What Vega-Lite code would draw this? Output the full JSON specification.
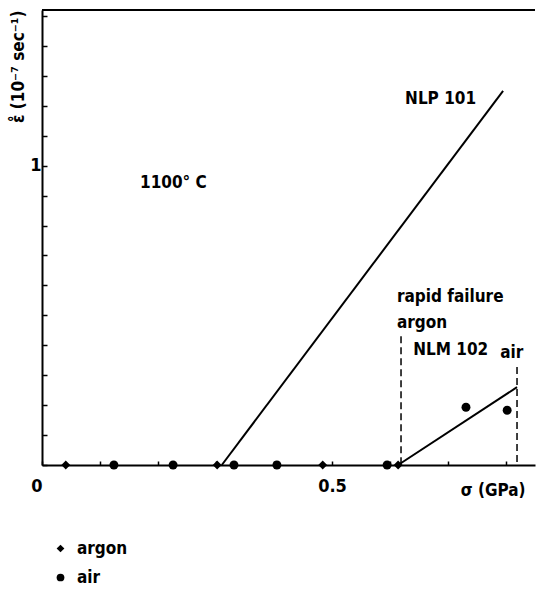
{
  "$schema": "https://vega.github.io/schema/vega-lite/v6.json",
  "width": 493,
  "height": 455,
  "autosize": {"type": "none"},
  "padding": {"left": 42, "top": 10, "right": 5, "bottom": 126},
  "background": "white",
  "config": {
    "font": "DejaVu Sans Condensed, sans-serif",
    "view": {"stroke": null},
    "axis": {"grid": false, "domainColor": "black", "domainWidth": 2, "tickColor": "black", "tickWidth": 1.5, "labelColor": "black", "titleColor": "black", "labelFontSize": 18, "titleFontSize": 17, "labelFontWeight": "bold", "titleFontWeight": "bold"}
  },
  "datasets": {
    "lines": [
      {"series": "NLP 101", "sigma": 0.31, "rate": 0},
      {"series": "NLP 101", "sigma": 0.795, "rate": 1.25},
      {"series": "NLM 102", "sigma": 0.614, "rate": 0},
      {"series": "NLM 102", "sigma": 0.819, "rate": 0.26}
    ],
    "points": [
      {"gas": "argon", "sigma": 0.041, "rate": 0},
      {"gas": "argon", "sigma": 0.302, "rate": 0},
      {"gas": "argon", "sigma": 0.484, "rate": 0},
      {"gas": "argon", "sigma": 0.614, "rate": 0},
      {"gas": "air", "sigma": 0.124, "rate": 0},
      {"gas": "air", "sigma": 0.226, "rate": 0},
      {"gas": "air", "sigma": 0.331, "rate": 0},
      {"gas": "air", "sigma": 0.405, "rate": 0},
      {"gas": "air", "sigma": 0.595, "rate": 0},
      {"gas": "air", "sigma": 0.731, "rate": 0.193},
      {"gas": "air", "sigma": 0.802, "rate": 0.183}
    ],
    "failure": [
      {"gas": "argon", "sigma": 0.619, "rate": 0.43},
      {"gas": "air", "sigma": 0.819, "rate": 0.327}
    ],
    "labels": [
      {"label": "1100° C", "sigma": 0.169, "rate": 0.943},
      {"label": "NLP 101", "sigma": 0.626, "rate": 1.223},
      {"label": "rapid failure", "sigma": 0.612, "rate": 0.56},
      {"label": "argon", "sigma": 0.612, "rate": 0.473},
      {"label": "NLM 102", "sigma": 0.64, "rate": 0.383},
      {"label": "air", "sigma": 0.79, "rate": 0.373}
    ],
    "frame": [
      {"sigma": 0, "sigma2": 0.85, "rate": 1.52}
    ]
  },
  "encoding": {
    "x": {
      "field": "sigma", "type": "quantitative",
      "scale": {"domain": [0, 0.85], "nice": false, "zero": false},
      "axis": {
        "values": [0, 0.1, 0.2, 0.3, 0.4, 0.5, 0.6, 0.7, 0.8],
        "labelExpr": "datum.value == 0 ? '0' : (datum.value == 0.5 ? '0.5' : '')",
        "labelAlign": {"condition": {"test": "datum.value == 0", "value": "right"}, "value": "center"},
        "tickSize": -4,
        "labelPadding": 16,
        "labelFlush": false,
        "title": "σ (GPa)",
        "titleAnchor": "end",
        "titleAlign": "right",
        "titleBaseline": "middle",
        "titleX": 483,
        "titleY": 25
      }
    },
    "y": {
      "field": "rate", "type": "quantitative",
      "scale": {"domain": [0, 1.52], "nice": false, "zero": false},
      "axis": {
        "values": [0, 0.1, 0.2, 0.3, 0.4, 0.5, 0.6, 0.7, 0.8, 0.9, 1, 1.1, 1.2, 1.3, 1.4, 1.5],
        "labelExpr": "datum.value == 1 ? '1' : ''",
        "tickSize": -5,
        "labelPadding": 6,
        "labelFlush": false,
        "title": "ε̊ (10⁻⁷ sec⁻¹)",
        "titleAngle": -90,
        "titleAnchor": "end",
        "titleAlign": "right",
        "titleBaseline": "middle",
        "titleX": -24,
        "titleY": 0
      }
    }
  },
  "layer": [
    {
      "data": {"name": "frame"},
      "mark": {"type": "rule", "color": "black", "strokeWidth": 2},
      "encoding": {"x2": {"field": "sigma2"}}
    },
    {
      "data": {"name": "lines"},
      "mark": {"type": "line", "color": "black", "strokeWidth": 2},
      "encoding": {"detail": {"field": "series"}}
    },
    {
      "data": {"name": "failure"},
      "mark": {"type": "rule", "color": "black", "strokeWidth": 1.5, "strokeDash": [7, 4]},
      "encoding": {"y2": {"datum": 0}}
    },
    {
      "data": {"name": "points"},
      "mark": {"type": "point", "filled": true, "color": "black", "opacity": 1, "size": 80},
      "encoding": {
        "shape": {
          "field": "gas", "type": "nominal",
          "scale": {"domain": ["argon", "air"], "range": ["diamond", "circle"]},
          "legend": {"title": null, "orient": "none", "legendX": 10, "legendY": 530, "labelFontSize": 17, "labelFontWeight": "bold", "labelColor": "black", "symbolSize": 60, "rowPadding": 11, "labelOffset": 8}
        }
      }
    },
    {
      "data": {"name": "labels"},
      "mark": {"type": "text", "align": "left", "baseline": "middle", "fontSize": 17, "fontWeight": "bold", "color": "black"},
      "encoding": {"text": {"field": "label"}}
    }
  ]
}
